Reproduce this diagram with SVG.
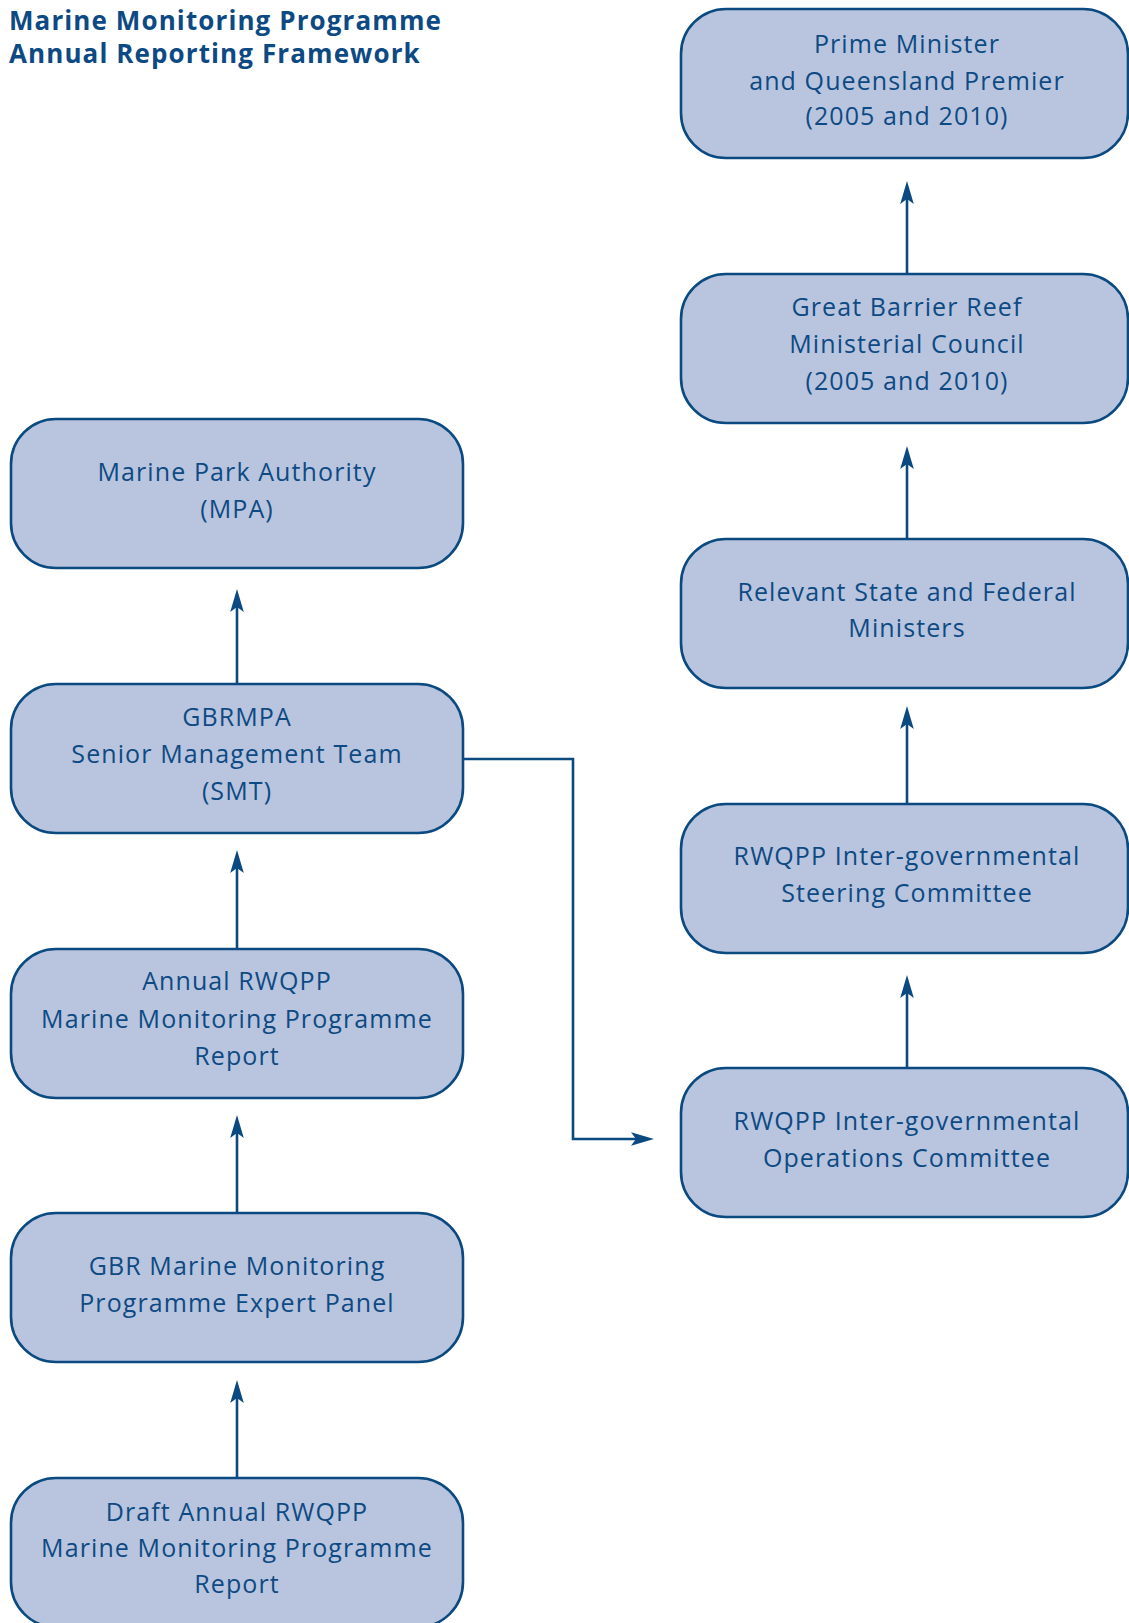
<svg xmlns="http://www.w3.org/2000/svg" width="1129" height="1623" viewBox="0 0 1129 1623">
  <style>
    .box { fill: #b9c5de; stroke: #0b4a80; stroke-width: 2.6; }
    .lbl { font-family: "Open Sans", "Noto Sans", "DejaVu Sans", sans-serif; font-size: 25px; letter-spacing: 1.1px; fill: #0d4a84; text-anchor: middle; }
    .title { font-family: "Open Sans", "Noto Sans", "DejaVu Sans", sans-serif; font-size: 26px; font-weight: bold; letter-spacing: 1.1px; fill: #0d4a84; }
    .conn { fill: none; stroke: #0b4a80; stroke-width: 2.6; }
  </style>
  <defs>
    <marker id="arrow" markerUnits="userSpaceOnUse" viewBox="-14 -8 28 16" refX="0" refY="0" markerWidth="28" markerHeight="16" orient="auto" overflow="visible">
      <path d="M11,0 L-12,-6.8 L-7,0 L-12,6.8 Z" fill="#0b4a80"/>
    </marker>
  </defs>
  <rect width="1129" height="1623" fill="#ffffff"/>
  <g id="title">
    <text class="title" x="9" y="30">Marine Monitoring Programme</text>
    <text class="title" x="9" y="63">Annual Reporting Framework</text>
  </g>
  <g id="connectors">
    <line class="conn" x1="237" y1="684" x2="237" y2="600" marker-end="url(#arrow)"/>
    <line class="conn" x1="237" y1="949" x2="237" y2="861" marker-end="url(#arrow)"/>
    <line class="conn" x1="237" y1="1213" x2="237" y2="1126" marker-end="url(#arrow)"/>
    <line class="conn" x1="237" y1="1478" x2="237" y2="1391" marker-end="url(#arrow)"/>
    <line class="conn" x1="907" y1="274" x2="907" y2="192" marker-end="url(#arrow)"/>
    <line class="conn" x1="907" y1="539" x2="907" y2="457" marker-end="url(#arrow)"/>
    <line class="conn" x1="907" y1="804" x2="907" y2="717" marker-end="url(#arrow)"/>
    <line class="conn" x1="907" y1="1068" x2="907" y2="986" marker-end="url(#arrow)"/>
    <polyline class="conn" points="463,759 573,759 573,1139 643,1139" marker-end="url(#arrow)"/>
  </g>
  <g id="node-mpa">
    <rect class="box" x="11" y="419" width="452" height="149" rx="45" ry="45"/>
    <text class="lbl" x="237" y="481">Marine Park Authority</text>
    <text class="lbl" x="237" y="518">(MPA)</text>
  </g>
  <g id="node-smt">
    <rect class="box" x="11" y="684" width="452" height="149" rx="45" ry="45"/>
    <text class="lbl" x="237" y="726">GBRMPA</text>
    <text class="lbl" x="237" y="763">Senior Management Team</text>
    <text class="lbl" x="237" y="800">(SMT)</text>
  </g>
  <g id="node-annual">
    <rect class="box" x="11" y="949" width="452" height="149" rx="45" ry="45"/>
    <text class="lbl" x="237" y="990">Annual RWQPP</text>
    <text class="lbl" x="237" y="1028">Marine Monitoring Programme</text>
    <text class="lbl" x="237" y="1065">Report</text>
  </g>
  <g id="node-panel">
    <rect class="box" x="11" y="1213" width="452" height="149" rx="45" ry="45"/>
    <text class="lbl" x="237" y="1275">GBR Marine Monitoring</text>
    <text class="lbl" x="237" y="1312">Programme Expert Panel</text>
  </g>
  <g id="node-draft">
    <rect class="box" x="11" y="1478" width="452" height="149" rx="45" ry="45"/>
    <text class="lbl" x="237" y="1521">Draft Annual RWQPP</text>
    <text class="lbl" x="237" y="1557">Marine Monitoring Programme</text>
    <text class="lbl" x="237" y="1593">Report</text>
  </g>
  <g id="node-pm">
    <rect class="box" x="681" y="9" width="447" height="149" rx="45" ry="45"/>
    <text class="lbl" x="907" y="53">Prime Minister</text>
    <text class="lbl" x="907" y="90">and Queensland Premier</text>
    <text class="lbl" x="907" y="125">(2005 and 2010)</text>
  </g>
  <g id="node-council">
    <rect class="box" x="681" y="274" width="447" height="149" rx="45" ry="45"/>
    <text class="lbl" x="907" y="316">Great Barrier Reef</text>
    <text class="lbl" x="907" y="353">Ministerial Council</text>
    <text class="lbl" x="907" y="390">(2005 and 2010)</text>
  </g>
  <g id="node-ministers">
    <rect class="box" x="681" y="539" width="447" height="149" rx="45" ry="45"/>
    <text class="lbl" x="907" y="601">Relevant State and Federal</text>
    <text class="lbl" x="907" y="637">Ministers</text>
  </g>
  <g id="node-steering">
    <rect class="box" x="681" y="804" width="447" height="149" rx="45" ry="45"/>
    <text class="lbl" x="907" y="865">RWQPP Inter-governmental</text>
    <text class="lbl" x="907" y="902">Steering Committee</text>
  </g>
  <g id="node-operations">
    <rect class="box" x="681" y="1068" width="447" height="149" rx="45" ry="45"/>
    <text class="lbl" x="907" y="1130">RWQPP Inter-governmental</text>
    <text class="lbl" x="907" y="1167">Operations Committee</text>
  </g>
</svg>
